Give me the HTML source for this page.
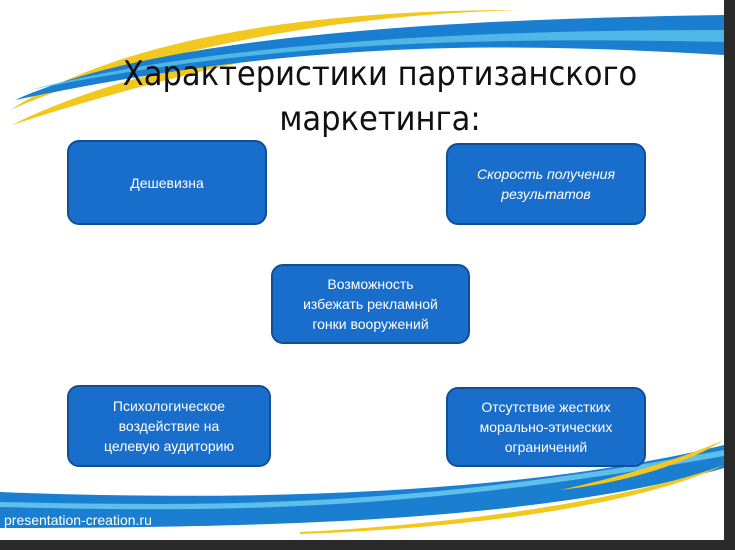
<!DOCTYPE html>
<html><head><meta charset="utf-8"><style>
body{margin:0;width:735px;height:550px;overflow:hidden;background:#2a2a2a;position:relative;font-family:"Liberation Sans","DejaVu Sans",sans-serif}
#slide{position:absolute;left:0;top:0;width:724px;height:540px;background:#fff;overflow:hidden}
.t{position:absolute;left:60px;width:640px;text-align:center;font-size:34px;color:#111;font-family:"DejaVu Sans Condensed","Liberation Sans Narrow","Liberation Sans",sans-serif;line-height:44px}
.b{position:absolute;background:#1a6ecb;border:2px solid #0f4f95;border-radius:12px;color:#fff;font-size:14px;display:flex;align-items:center;justify-content:center;text-align:center;line-height:20px;box-sizing:border-box}
</style></head><body>
<div id="slide">
<svg width="724" height="540" style="position:absolute;left:0;top:0">
<path d="M10 110 C120 40 300 10 520 10 C330 15 150 50 10 110Z" fill="#f2c81e"/>
<path d="M12 125 C100 80 250 45 380 38 C250 55 120 90 12 125Z" fill="#f2c81e"/>
<path d="M15 100 C150 40 400 20 724 15 L724 55 C500 42 300 40 15 100Z" fill="#1a7fd0"/>
<path d="M30 90 C200 45 450 30 724 30 L724 42 C450 36 250 45 30 90Z" fill="#5ec4ea" opacity=".8"/>
<path d="M0 492 C200 500 500 500 724 445 L724 468 C550 518 300 528 0 528Z" fill="#1a7fd0"/>
<path d="M0 502 C200 506 400 510 724 450 L724 456 C400 514 200 512 0 507Z" fill="#6fd0f0" opacity=".8"/>
<path d="M300 532 C500 522 650 492 724 465 C650 500 500 527 300 534Z" fill="#f2c81e"/>
<path d="M560 490 C630 475 690 455 724 440 C690 462 630 482 560 490Z" fill="#f2c81e"/>
</svg>
<div class="t" style="top:52px">Характеристики партизанского</div>
<div class="t" style="top:97px">маркетинга:</div>
<div class="b" style="left:67px;top:140px;width:200px;height:85px">Дешевизна</div>
<div class="b" style="left:446px;top:143px;width:200px;height:82px;font-style:italic">Скорость получения<br>результатов</div>
<div class="b" style="left:271px;top:264px;width:199px;height:80px">Возможность<br>избежать рекламной<br>гонки вооружений</div>
<div class="b" style="left:67px;top:385px;width:204px;height:82px">Психологическое<br>воздействие на<br>целевую аудиторию</div>
<div class="b" style="left:446px;top:387px;width:200px;height:80px">Отсутствие жестких<br>морально-этических<br>ограничений</div>
<div style="position:absolute;left:4px;top:512px;color:#fff;font-size:14px;font-family:'Liberation Sans Narrow','Liberation Sans',sans-serif">presentation-creation.ru</div>
</div>
</body></html>
